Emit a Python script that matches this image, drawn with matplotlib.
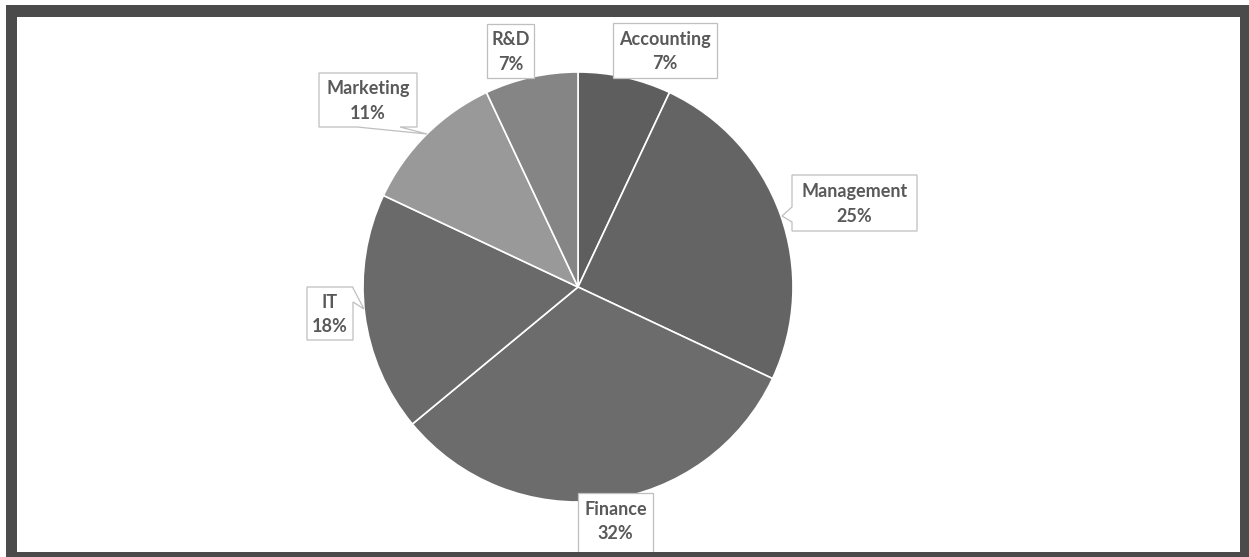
import matplotlib
matplotlib.use('Agg')
import matplotlib.pyplot as plt
import matplotlib.patches as mpatches

# ── Data ───────────────────────────────────────────────────────────────────
departments = ['Accounting', 'Management', 'Finance', 'IT', 'Marketing', 'R&D']
shares      = [7, 25, 32, 18, 11, 7]
slice_colors = ['#5e5e5e', '#646464', '#6c6c6c', '#6a6a6a', '#999999', '#858585']

# ── Layout (pixel space, origin top-left) ──────────────────────────────────
W, H = 1249, 557
PIE_CENTER = (578, 287)
PIE_RADIUS = 215

FRAME_COLOR = '#4b4b4b'
TEXT_COLOR  = '#595959'
BOX_EDGE    = '#bfbfbf'

# callout boxes: (x0, y0, x1, y1), pointer (base_a, tip, base_b) or None
CALLOUTS = {
    'Accounting': ((613, 23, 717, 78), None),
    'Management': ((792, 175, 917, 231), ((792, 207), (782, 216), (792, 222))),
    'Finance':    ((578, 493, 653, 560), None),
    'IT':         ((307, 287, 353, 340), ((353, 288), (364, 309), (353, 302))),
    'Marketing':  ((319, 73, 417, 127), ((400, 127), (427, 134), (357, 127))),
    'R&D':        ((487, 24, 534, 78), None),
}


def fy(y):
    return H - y


fig = plt.figure(figsize=(W / 100, H / 100), dpi=100)
fig.patch.set_facecolor('white')
ax = fig.add_axes([0, 0, 1, 1])

ax.pie(
    shares,
    colors=slice_colors,
    center=(PIE_CENTER[0], fy(PIE_CENTER[1])),
    radius=PIE_RADIUS,
    startangle=90,
    counterclock=False,
    wedgeprops=dict(edgecolor='white', linewidth=1.2),
)

ax.set_xlim(0, W)
ax.set_ylim(0, H)
ax.set_aspect('equal')
ax.axis('off')

# callout labels
for name, value in zip(departments, shares):
    (x0, y0, x1, y1), pointer = CALLOUTS[name]
    if pointer is None:
        verts = [(x0, y0), (x1, y0), (x1, y1), (x0, y1)]
    else:
        a, tip, b = pointer
        if a[0] == x0 and b[0] == x0:          # left edge
            verts = [(x0, y0), (x1, y0), (x1, y1), (x0, y1), b, tip, a]
        elif a[0] == x1 and b[0] == x1:        # right edge
            verts = [(x0, y0), (x1, y0), a, tip, b, (x1, y1), (x0, y1)]
        else:                                  # bottom edge
            verts = [(x0, y0), (x1, y0), (x1, y1), a, tip, b, (x0, y1)]
    poly = mpatches.Polygon([(x, fy(y)) for x, y in verts], closed=True,
                            facecolor='white', edgecolor=BOX_EDGE,
                            linewidth=0.9, zorder=5)
    ax.add_patch(poly)
    cx = (x0 + x1) / 2
    cy = (y0 + 548) / 2 if name == 'Finance' else (y0 + y1) / 2
    ax.text(cx, fy(cy + 1), f"{name}\n{value}%", ha='center', va='center',
            color=TEXT_COLOR, fontsize=13, fontweight='bold',
            family='Lato', linespacing=1.55, zorder=6)

# dark frame around the chart area
for rect in [(6, 5, W, 17), (6, 5, 17, H), (1240, 5, W, H), (6, 552, W, H)]:
    x0, y0, x1, y1 = rect
    ax.add_patch(mpatches.Rectangle((x0, fy(y1)), x1 - x0, y1 - y0,
                                    facecolor=FRAME_COLOR, edgecolor='none',
                                    zorder=10))

fig.savefig('out.png', dpi=100)
